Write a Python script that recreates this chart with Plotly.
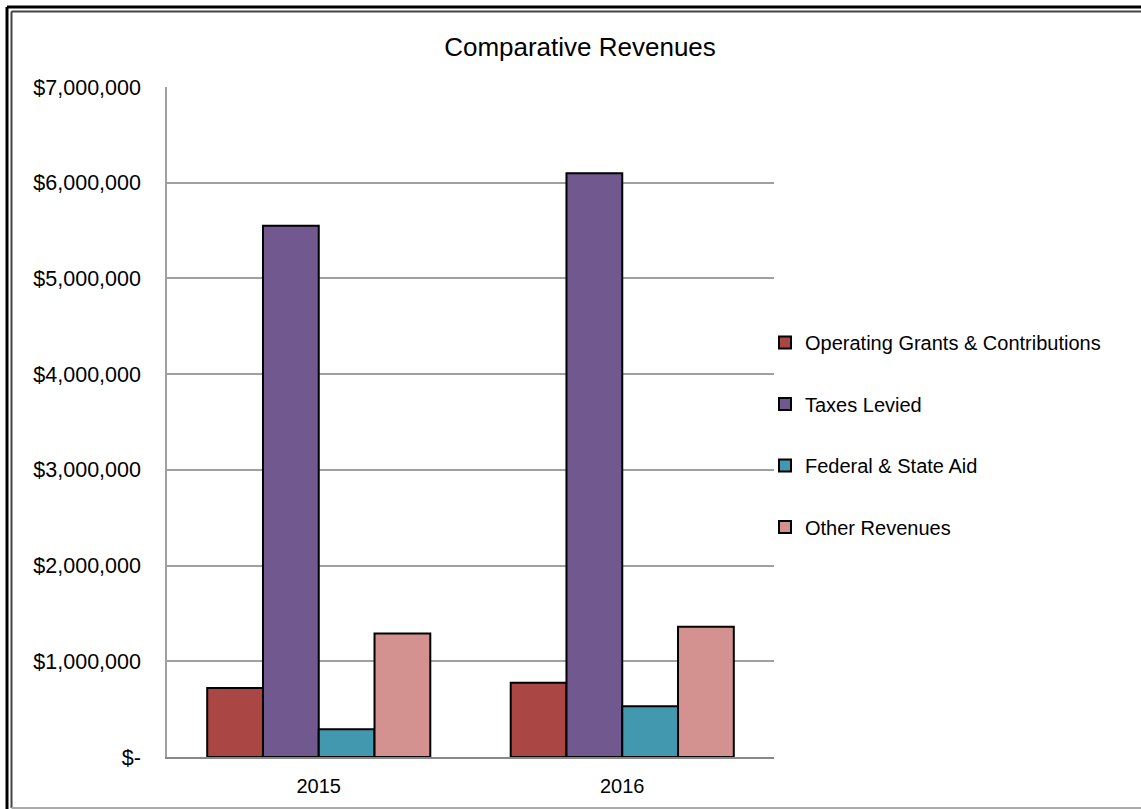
import plotly.graph_objects as go

# ---- data ----
years = ["2015", "2016"]
series_names = ["Operating Grants & Contributions", "Taxes Levied",
                "Federal & State Aid", "Other Revenues"]
operating_grants = [720000, 775000]
taxes_levied = [5550000, 6100000]
federal_state_aid = [290000, 530000]
other_revenues = [1290000, 1360000]
tick_values = [0, 1000000, 2000000, 3000000, 4000000, 5000000, 6000000, 7000000]
tick_labels = ["$-", "$1,000,000", "$2,000,000", "$3,000,000", "$4,000,000",
               "$5,000,000", "$6,000,000", "$7,000,000"]

colors = ["#AA4643", "#71588F", "#4198AF", "#D3928F"]
values = [operating_grants, taxes_levied, federal_state_aid, other_revenues]

W, H = 1141, 809
L, R, T, B = 167, 367, 87, 52
pw = W - L - R
ph = H - T - B

def px_x(p):
    return (p - L) / pw

def px_y(p):
    return (H - B - p) / ph

fig = go.Figure()
for i, (name, vals) in enumerate(zip(series_names, values)):
    fig.add_trace(go.Bar(
        x=years, y=vals, name=name, legendgroup=name,
        marker=dict(color=colors[i], line=dict(color="#000000", width=2)),
    ))

FONT = "Liberation Sans, Arial, sans-serif"

shapes = [
    # outer black border (left, top)
    dict(type="line", xref="paper", yref="paper", x0=px_x(7), x1=px_x(7),
         y0=px_y(7), y1=px_y(H), line=dict(color="#000", width=3)),
    dict(type="line", xref="paper", yref="paper", x0=px_x(7), x1=px_x(W),
         y0=px_y(7), y1=px_y(7), line=dict(color="#000", width=3)),
    # inner border
    dict(type="line", xref="paper", yref="paper", x0=px_x(11.5), x1=px_x(11.5),
         y0=px_y(11.5), y1=px_y(808), line=dict(color="#444", width=2)),
    dict(type="line", xref="paper", yref="paper", x0=px_x(11.5), x1=px_x(W),
         y0=px_y(11.5), y1=px_y(11.5), line=dict(color="#444", width=2)),
    dict(type="line", xref="paper", yref="paper", x0=px_x(11.5), x1=px_x(W),
         y0=px_y(808), y1=px_y(808), line=dict(color="#aaa", width=2)),
]

fig.update_layout(
    width=W, height=H,
    margin=dict(l=L, r=R, t=T, b=B, autoexpand=False),
    paper_bgcolor="white", plot_bgcolor="white",
    font=dict(family=FONT, size=20, color="#000"),
    title=dict(text="Comparative Revenues", x=px_x(580), xref="paper", xanchor="center",
               y=1 - 47 / H, yanchor="middle", font=dict(size=26, family=FONT, color="#000")),
    barmode="group", bargap=0.265, bargroupgap=0,
    showlegend=True,
    legend=dict(x=px_x(765), xanchor="left", y=px_y(323), yanchor="top",
                font=dict(size=20, family=FONT), tracegroupgap=32.5,
                bgcolor="rgba(0,0,0,0)", itemclick=False),
    xaxis=dict(showgrid=False, showline=True, linecolor="#888", linewidth=2,
               ticks="", ticklabelstandoff=10, tickfont=dict(size=20)),
    yaxis=dict(range=[0, 7000000], tickvals=tick_values, ticktext=tick_labels,
               showgrid=True, gridcolor="#A0A0A0", gridwidth=1.5,
               showline=True, linecolor="#A0A0A0", linewidth=1.5,
               zeroline=False, ticks="", ticklabelstandoff=20,
               tickfont=dict(size=21.5)),
    shapes=shapes,
)

fig.write_html("out.html", config={"displayModeBar": False},
               post_script="document.documentElement.style.overflow='hidden';"
                           "document.body.style.margin='0';document.body.style.overflow='hidden';")
